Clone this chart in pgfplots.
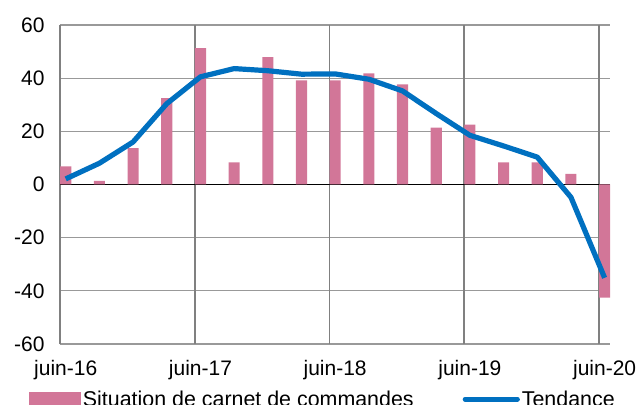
\documentclass[border=0pt]{standalone}
\usepackage{fontspec}
\setmainfont{Liberation Sans}
\usepackage{pgfplots}
\pgfplotsset{compat=1.18}
\definecolor{barpink}{RGB}{210,118,152}
\definecolor{lineblue}{RGB}{0,112,192}
\begin{document}
\begin{tikzpicture}
\begin{axis}[
  at={(0,0)}, anchor=south west,
  scale only axis, width=550bp, height=319bp,
  xmin=0, xmax=16.33, ymin=-60, ymax=60,
  axis line style={draw=none},
  tick style={draw=none},
  ytick={-60,-40,-20,0,20,40,60},
  yticklabels={{-60},{-40},{-20},0,20,40,60},
  ymajorgrids,
  major grid style={color=black!40, line width=1.2bp},
  xtick={0.17,4.17,8.17,12.17,16.17},
  xticklabels={juin-16,juin-17,juin-18,juin-19,juin-20},
  extra x ticks={0,4,8,12,16},
  extra x tick labels={},
  extra x tick style={grid=major, major grid style={color=black!50, line width=1.6bp}},
  extra y ticks={0}, extra y tick labels={},
  extra y tick style={grid=major, major grid style={color=black, line width=0.9bp}},
  tick label style={font=\fontsize{21bp}{25bp}\selectfont},
  xticklabel style={yshift=-13bp},
  yticklabel style={xshift=-12bp},
  legend columns=2,
  legend style={draw=none, fill=none, inner sep=0pt, outer sep=0pt,
    at={(axis description cs:-0.0564,-0.14)}, anchor=north west,
    font=\fontsize{21.4bp}{25bp}\selectfont,
    /tikz/every even column/.append style={column sep=47bp}},
  legend cell align=left,
]
\addplot[ybar, bar width=0.33, bar shift=0pt, fill=barpink, draw=none,
  legend image code/.code={\fill[barpink] (0bp,-7bp) rectangle (52bp,7bp);}]
  coordinates {
  (0.17,6.8) (1.17,1.4) (2.17,13.7) (3.17,32.5) (4.17,51.3) (5.17,8.3)
  (6.17,47.9) (7.17,39.2) (8.17,39.2) (9.17,41.8) (10.17,37.7) (11.17,21.4)
  (12.17,22.5) (13.17,8.3) (14.17,8.3) (15.17,4.0) (16.17,-42.6)};
\addlegendentry{Situation de carnet de commandes}
\addplot[sharp plot, color=lineblue, line width=5.2bp, line join=round, mark=none,
  legend image code/.code={\draw[lineblue, line width=5.2bp, line cap=round] (2bp,0bp) -- (54bp,0bp);}]
  coordinates {
  (0.17,2.1) (1.17,8.0) (2.17,16.0) (3.17,30.4) (4.17,40.5) (5.17,43.6)
  (6.17,42.8) (7.17,41.5) (8.17,41.6) (9.17,39.6) (10.17,35.2) (11.17,26.7)
  (12.17,18.5) (13.17,14.5) (14.17,10.3) (15.17,-4.8) (16.17,-35.1)};
\addlegendentry{Tendance}
\end{axis}
\pgfresetboundingbox
\path[use as bounding box] (-60bp,-61bp) rectangle (579bp,344bp);
\end{tikzpicture}
\end{document}
